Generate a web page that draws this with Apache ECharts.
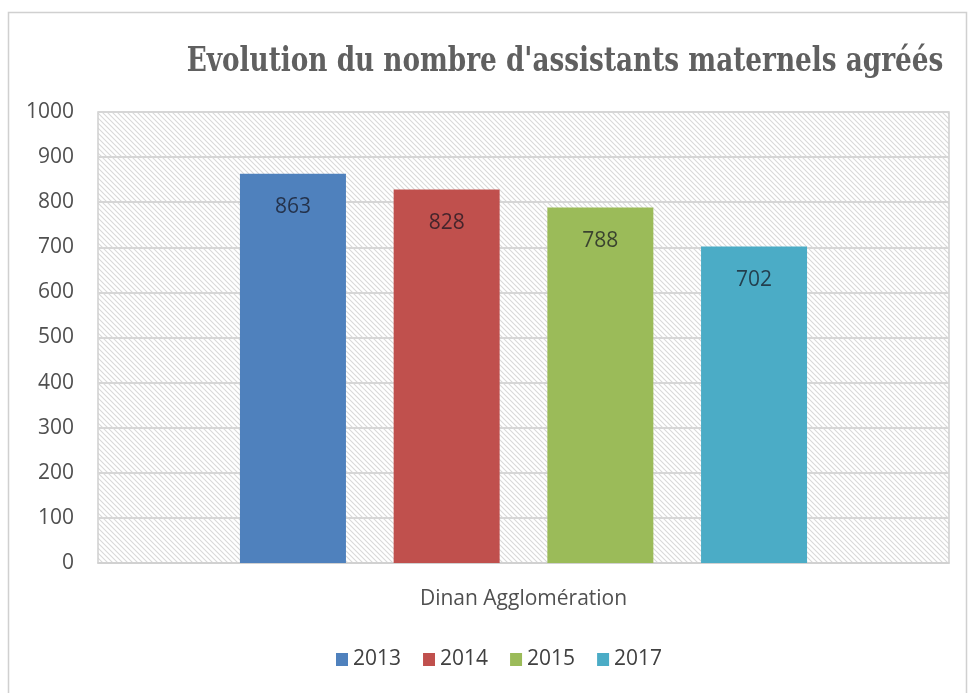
<!DOCTYPE html>
<html>
<head>
<meta charset="utf-8">
<script src="https://cdn.jsdelivr.net/npm/echarts@6/dist/echarts.min.js"></script>
<style>html,body{margin:0;padding:0;background:#fff}#c{width:972px;height:693px}</style>
</head>
<body>
<div id="c"></div>
<script>
var titleText = "Evolution du nombre d'assistants maternels agréés";
var categories = ["Dinan Agglomération"];
var seriesNames = ["2013", "2014", "2015", "2017"];
var seriesValues = [[863], [828], [788], [702]];
var seriesColors = ["#4F81BD", "#C0504D", "#9BBB59", "#4BACC6"];

var pc = document.createElement('canvas');
pc.width = 5; pc.height = 5;
var g = pc.getContext('2d');
g.fillStyle = '#ffffff'; g.fillRect(0,0,5,5);
g.strokeStyle = '#d9d9d9'; g.lineWidth = 1.1;
g.beginPath();
g.moveTo(-1,-1); g.lineTo(6,6);
g.moveTo(-6,-1); g.lineTo(1,6);
g.moveTo(4,-1); g.lineTo(11,6);
g.stroke();

var chart = echarts.init(document.getElementById('c'), null, {renderer: 'canvas'});
var series = seriesNames.map(function (n, i) {
  return {
    name: n, type: 'bar', data: seriesValues[i],
    barWidth: 106, barGap: '45%',
    itemStyle: {color: seriesColors[i]},
    label: {show: true, position: 'insideTop', distance: 23,
      fontFamily: 'Open Sans', fontSize: 21, color: 'rgba(20,20,30,0.72)'}
  };
});
chart.setOption({
  animation: false,
  backgroundColor: '#fff',
  graphic: [
    {type: 'rect', shape: {x: 8.5, y: 12.5, width: 958, height: 700},
      style: {fill: 'none', stroke: '#d0d0d0', lineWidth: 1.5}, silent: true},
    {type: 'text', x: 565, y: 62, scaleX: 0.86, silent: true,
      style: {text: titleText, fontFamily: 'DejaVu Serif Condensed', fontWeight: 'bold', fontSize: 34,
        fill: '#606060', align: 'center', verticalAlign: 'middle'}}
  ],
  grid: {left: 98, right: 23, top: 112, bottom: 130, show: true,
    backgroundColor: {image: pc, repeat: 'repeat'}, borderColor: '#cfcfcf', borderWidth: 1.5},
  legend: {data: seriesNames, bottom: 18, left: 331, icon: 'rect', itemWidth: 12, itemHeight: 13, itemGap: 22,
    textStyle: {fontFamily: 'Open Sans', fontSize: 21, color: '#404040'}},
  xAxis: {type: 'category', data: categories,
    axisTick: {show: false}, axisLine: {lineStyle: {color: '#cfcfcf', width: 1.5}},
    axisLabel: {margin: 26, fontFamily: 'Open Sans', fontSize: 21, color: '#505050'}},
  yAxis: {type: 'value', min: 0, max: 1000, interval: 100,
    axisLine: {show: false}, axisTick: {show: false},
    splitLine: {lineStyle: {color: '#d6d6d6', width: 2}},
    axisLabel: {margin: 24, fontFamily: 'Open Sans', fontSize: 21, color: '#505050',
      formatter: function (v) { return String(v); }}},
  series: series
});
</script>
</body>
</html>
